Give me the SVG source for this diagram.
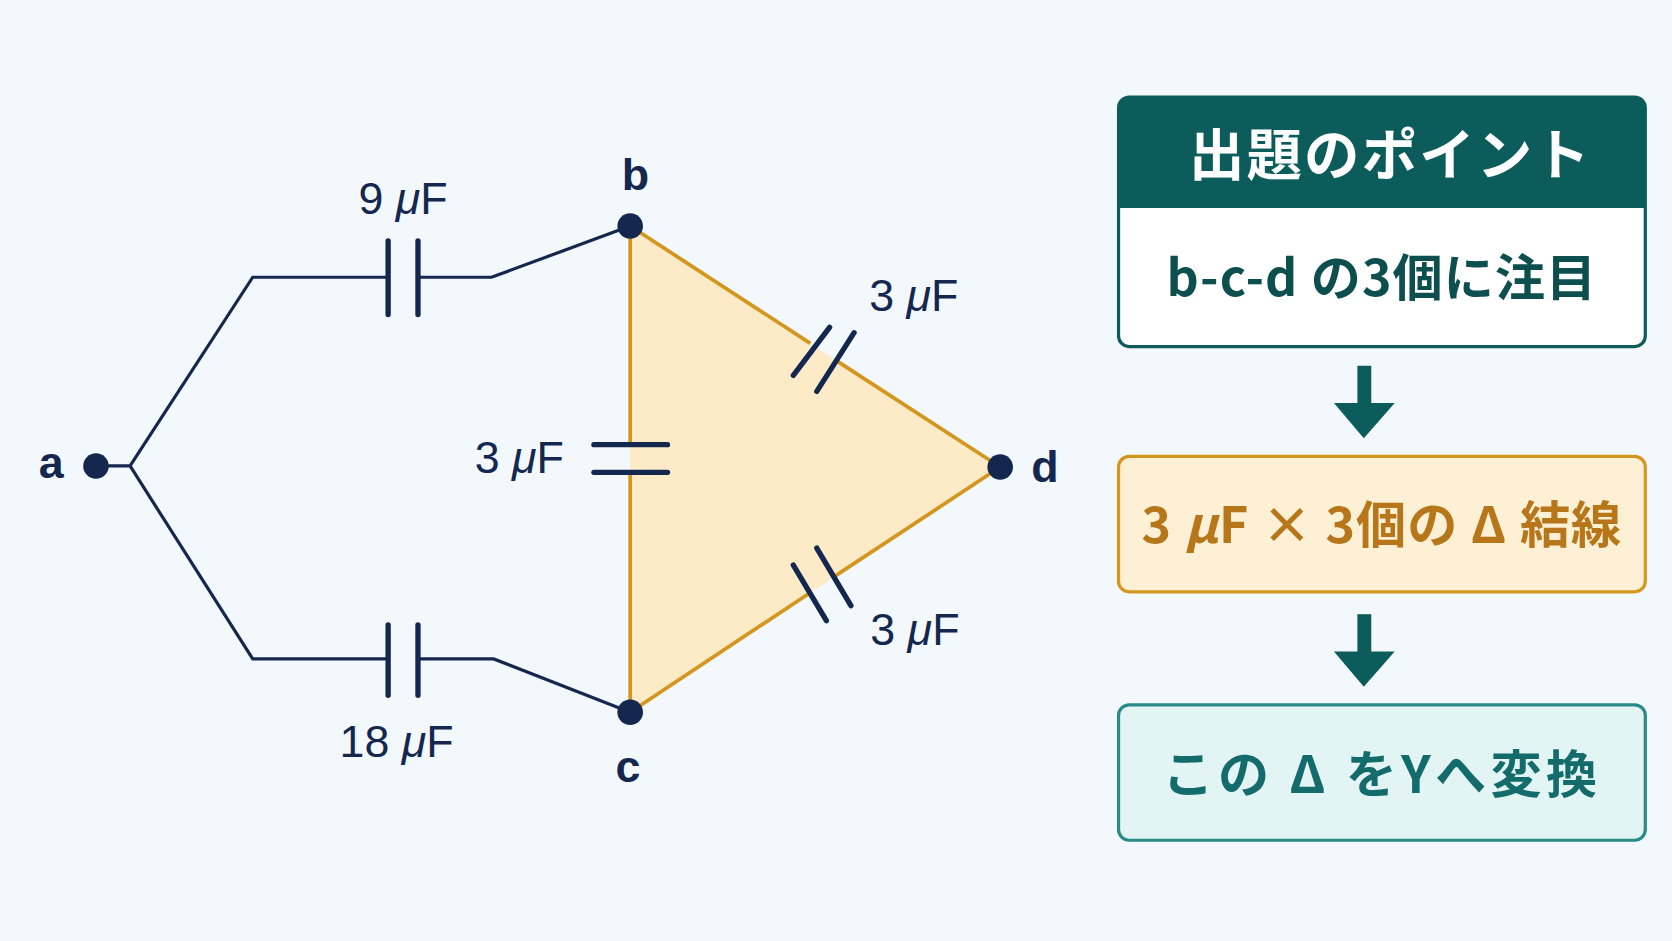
<svg xmlns="http://www.w3.org/2000/svg" width="1672" height="941" viewBox="0 0 1672 941">
<style>
.w{fill:none;stroke:#14284f;stroke-width:3}
.t{fill:none;stroke:#d4961e;stroke-width:3.5}
.p{stroke:#14284f;stroke-width:5;stroke-linecap:round}
.lb{font-family:"Liberation Sans","Noto Sans CJK JP",sans-serif;font-size:42px;fill:#14284f}
.nd{font-family:"Liberation Sans",sans-serif;font-size:42px;fill:#14284f;font-weight:bold}
.bx{font-family:"Noto Sans CJK JP","Liberation Sans",sans-serif;font-weight:bold;text-anchor:middle}
</style>
<rect width="1672" height="941" fill="#f3f8fc"/>
<g transform="scale(1.0663)">
<g id="triangle"><polygon points="591,212 591,668 938,438" fill="#fdebc8" stroke="none"/></g>
<g id="connectors">
<polyline class="w" points="90,437 122,437 237,260 364,260"/>
<polyline class="w" points="392,260 461,260 591,212"/>
<polyline class="w" points="122,437 237,618 364,618"/>
<polyline class="w" points="392,618 463,618 591,668"/>
<line class="t" x1="591" y1="212" x2="591" y2="417"/>
<line class="t" x1="591" y1="443" x2="591" y2="668"/>
<line class="t" x1="591" y1="212" x2="760" y2="322"/>
<line class="t" x1="784" y1="338" x2="938" y2="438"/>
<line class="t" x1="591" y1="668" x2="758" y2="557"/>
<line class="t" x1="782" y1="541" x2="938" y2="438"/>
</g>
<g id="cap9"><line class="p" x1="364" y1="226" x2="364" y2="295"/><line class="p" x1="392" y1="226" x2="392" y2="295"/></g>
<g id="cap18"><line class="p" x1="364" y1="586" x2="364" y2="652"/><line class="p" x1="392" y1="586" x2="392" y2="652"/></g>
<g id="capbc"><line class="p" x1="557" y1="417" x2="626" y2="417"/><line class="p" x1="557" y1="443" x2="626" y2="443"/></g>
<g id="capbd"><line class="p" x1="744" y1="352" x2="778" y2="307"/><line class="p" x1="766" y1="367" x2="801" y2="312"/></g>
<g id="capcd"><line class="p" x1="744" y1="530" x2="775" y2="582"/><line class="p" x1="766" y1="514" x2="798" y2="568"/></g>
<g id="nodes">
<circle cx="90" cy="437" r="12" fill="#14284f"/>
<circle cx="591" cy="212" r="12" fill="#14284f"/>
<circle cx="591" cy="668" r="12" fill="#14284f"/>
<circle cx="938" cy="438" r="12" fill="#14284f"/>
<text class="nd" x="48" y="448" text-anchor="middle">a</text>
<text class="nd" x="596" y="178" text-anchor="middle">b</text>
<text class="nd" x="589" y="733" text-anchor="middle">c</text>
<text class="nd" x="980" y="452" text-anchor="middle">d</text>
</g>
<g id="labels">
<text class="lb" x="378" y="201" text-anchor="middle">9 <tspan font-style="italic">μ</tspan>F</text>
<text class="lb" x="857" y="292" text-anchor="middle">3 <tspan font-style="italic">μ</tspan>F</text>
<text class="lb" x="487" y="444" text-anchor="middle">3 <tspan font-style="italic">μ</tspan>F</text>
<text class="lb" x="858" y="605" text-anchor="middle">3 <tspan font-style="italic">μ</tspan>F</text>
<text class="lb" x="372" y="710" text-anchor="middle">18 <tspan font-style="italic">μ</tspan>F</text>
</g>
<g id="point">
<rect x="1049" y="91" width="494" height="234" rx="10" fill="#fff" stroke="#0d5c5c" stroke-width="3"/>
<path d="M1059,91 H1533 a10,10 0 0 1 10,10 V195 H1049 V101 a10,10 0 0 1 10,-10Z" fill="#0d5c5c"/>
<text class="bx" x="1304" y="164" font-size="52" fill="#fff" letter-spacing="2">出題のポイント</text>
<text class="bx" x="1296" y="278" font-size="47" fill="#0d4f4f" font-weight="500" letter-spacing="1">b-c-d の3個に注目</text>
</g>
<g id="arrow1"><rect x="1273" y="343" width="13" height="37" fill="#0d5c5c"/><polygon points="1251,378 1308,378 1279,411" fill="#0d5c5c"/></g>
<g id="delta">
<rect x="1049" y="428" width="494" height="127" rx="10" fill="#fdf0d5" stroke="#d4961e" stroke-width="3"/>
<text class="bx" x="1296" y="509" font-size="47" fill="#b8761a" letter-spacing="1">3 <tspan font-style="italic">μ</tspan>F × 3個の Δ 結線</text>
</g>
<g id="arrow2"><rect x="1273" y="576" width="13" height="37" fill="#0d5c5c"/><polygon points="1251,611 1308,611 1279,644" fill="#0d5c5c"/></g>
<g id="convert">
<rect x="1049" y="661" width="494" height="127" rx="10" fill="#e3f4f4" stroke="#2a8a8a" stroke-width="3"/>
<text class="bx" x="1296" y="744" font-size="48" fill="#136b6b" letter-spacing="4">この Δ をYへ変換</text>
</g>
</g>
</svg>
